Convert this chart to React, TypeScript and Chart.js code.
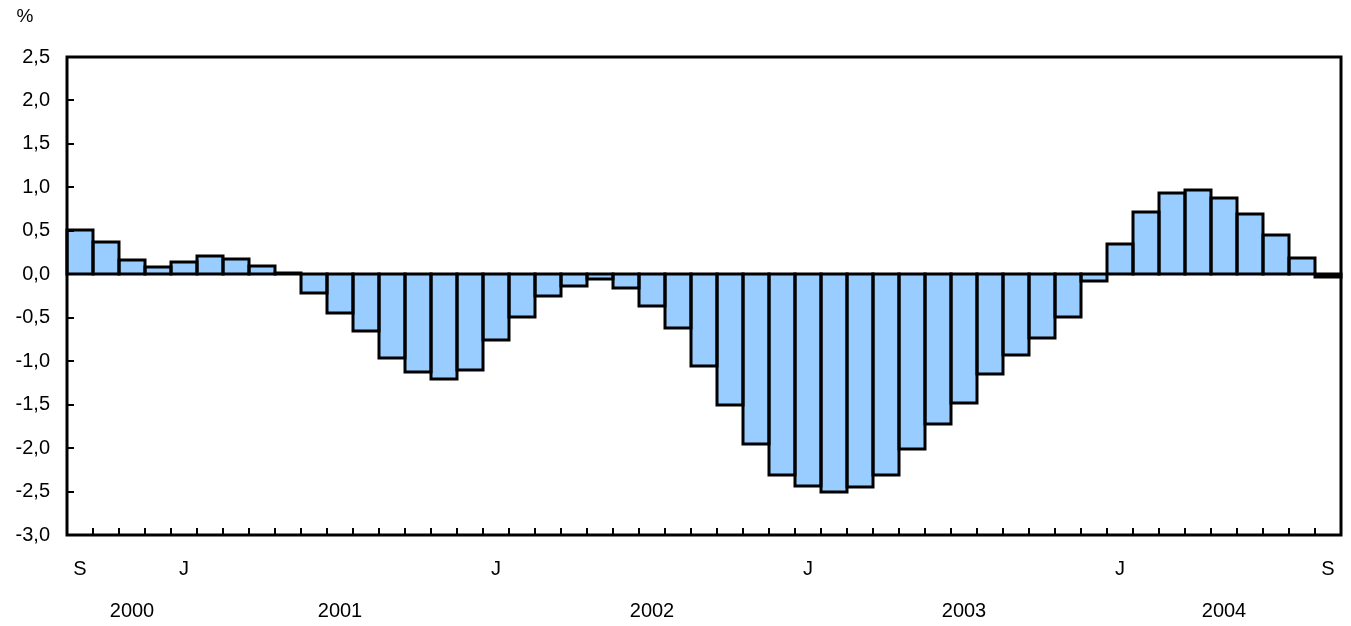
import React, { useEffect, useRef } from "react";
import { Chart, registerables } from "chart.js";

Chart.register(...registerables);

// Months: September 2000 to September 2004
const months: string[] = [
  "2000-09", "2000-10", "2000-11", "2000-12",
  "2001-01", "2001-02", "2001-03", "2001-04", "2001-05", "2001-06",
  "2001-07", "2001-08", "2001-09", "2001-10", "2001-11", "2001-12",
  "2002-01", "2002-02", "2002-03", "2002-04", "2002-05", "2002-06",
  "2002-07", "2002-08", "2002-09", "2002-10", "2002-11", "2002-12",
  "2003-01", "2003-02", "2003-03", "2003-04", "2003-05", "2003-06",
  "2003-07", "2003-08", "2003-09", "2003-10", "2003-11", "2003-12",
  "2004-01", "2004-02", "2004-03", "2004-04", "2004-05", "2004-06",
  "2004-07", "2004-08", "2004-09",
];

const values: number[] = [
  0.51, 0.37, 0.16, 0.08,
  0.14, 0.21, 0.18, 0.10, 0.02, -0.22,
  -0.45, -0.65, -0.96, -1.13, -1.21, -1.10,
  -0.76, -0.49, -0.25, -0.13, -0.06, -0.16,
  -0.37, -0.62, -1.05, -1.50, -1.95, -2.31,
  -2.44, -2.51, -2.45, -2.31, -2.01, -1.72,
  -1.48, -1.15, -0.93, -0.73, -0.49, -0.08,
  0.35, 0.72, 0.93, 0.97, 0.88, 0.69,
  0.45, 0.19, -0.03,
];

// Month letter tick labels (by month key)
const monthTickLabels: Record<string, string> = {
  "2000-09": "S",
  "2001-01": "J",
  "2002-01": "J",
  "2003-01": "J",
  "2004-01": "J",
  "2004-09": "S",
};

// Year labels (placed under the given month)
const yearLabels: Record<string, string> = {
  "2000-11": "2000",
  "2001-07": "2001",
  "2002-07": "2002",
  "2003-07": "2003",
  "2004-05": "2004",
};

const yMin = -3.0;
const yMax = 2.5;
const yStep = 0.5;
const unitLabel = "%";

const FONT = "'Liberation Sans', Arial, sans-serif";

const framePlugin = {
  id: "frame",
  afterDatasetsDraw(chart: any) {
    const { ctx } = chart;
    const meta = chart.getDatasetMeta(0);
    ctx.save();
    ctx.strokeStyle = "#000";
    ctx.lineWidth = 3;
    ctx.lineJoin = "miter";
    meta.data.forEach((el: any) => {
      const { x, y, base, width } = el.getProps(["x", "y", "base", "width"], true);
      const left = Math.round(x - width / 2);
      const right = Math.round(x + width / 2);
      const top = Math.round(Math.min(y, base));
      const bottom = Math.round(Math.max(y, base));
      ctx.strokeRect(left, top, right - left, bottom - top);
    });
    ctx.restore();
  },
  afterDraw(chart: any) {
    const { ctx, chartArea, scales } = chart;
    const xs = scales.x;
    const ys = scales.y;
    ctx.save();
    ctx.strokeStyle = "#000";
    ctx.lineWidth = 2;
    ctx.beginPath();
    const n = chart.data.labels.length;
    for (let i = 1; i < n; i++) {
      const px = Math.round((xs.getPixelForValue(i - 1) + xs.getPixelForValue(i)) / 2);
      ctx.moveTo(px, chartArea.bottom);
      ctx.lineTo(px, chartArea.bottom - 7);
    }
    ys.ticks.forEach((t: any) => {
      const py = Math.round(ys.getPixelForValue(t.value));
      ctx.moveTo(chartArea.left, py);
      ctx.lineTo(chartArea.left + 7, py);
    });
    ctx.stroke();
    ctx.lineWidth = 3;
    ctx.strokeRect(chartArea.left, chartArea.top, chartArea.right - chartArea.left, chartArea.bottom - chartArea.top);
    ctx.fillStyle = "#000";
    ctx.font = `19px ${FONT}`;
    ctx.textAlign = "center";
    ctx.textBaseline = "middle";
    ctx.fillText(unitLabel, 25, 17);
    ctx.restore();
  },
};

export default function App() {
  const canvasRef = useRef<HTMLCanvasElement | null>(null);

  useEffect(() => {
    const canvas = canvasRef.current;
    if (!canvas) return;
    const chart = new Chart(canvas, {
      type: "bar",
      data: {
        labels: months,
        datasets: [
          {
            data: values,
            backgroundColor: "#99CCFF",
            borderWidth: 0,
            categoryPercentage: 1,
            barPercentage: 1,
          },
        ],
      },
      options: {
        responsive: false,
        animation: false,
        maintainAspectRatio: false,
        layout: { padding: { top: 57, right: 10, left: 0, bottom: 0 } },
        plugins: {
          legend: { display: false },
          tooltip: { enabled: false },
        },
        scales: {
          x: {
            grid: { display: false, drawTicks: false },
            border: { display: false },
            afterFit(scale: any) {
              scale.height = 91;
            },
            ticks: {
              autoSkip: false,
              maxRotation: 0,
              minRotation: 0,
              padding: 13,
              color: "#000",
              font: { family: FONT, size: 20, lineHeight: "42px" } as any,
              callback: (_v: any, i: number) => {
                const k = months[i];
                return [monthTickLabels[k] || "", yearLabels[k] || ""];
              },
            },
          },
          y: {
            min: yMin,
            max: yMax,
            grid: { display: false, drawTicks: false },
            border: { display: false },
            afterFit(scale: any) {
              scale.width = 67;
            },
            ticks: {
              stepSize: yStep,
              padding: 17,
              color: "#000",
              font: { family: FONT, size: 20 },
              callback: (v: any) => Number(v).toFixed(1).replace(".", ","),
            },
          },
        },
      },
      plugins: [framePlugin],
    });
    return () => chart.destroy();
  }, []);

  return (
    <div style={{ position: "fixed", left: 0, top: 0, width: 1351, height: 626, background: "#fff" }}>
      <canvas ref={canvasRef} width={1351} height={626} style={{ display: "block" }} />
    </div>
  );
}
